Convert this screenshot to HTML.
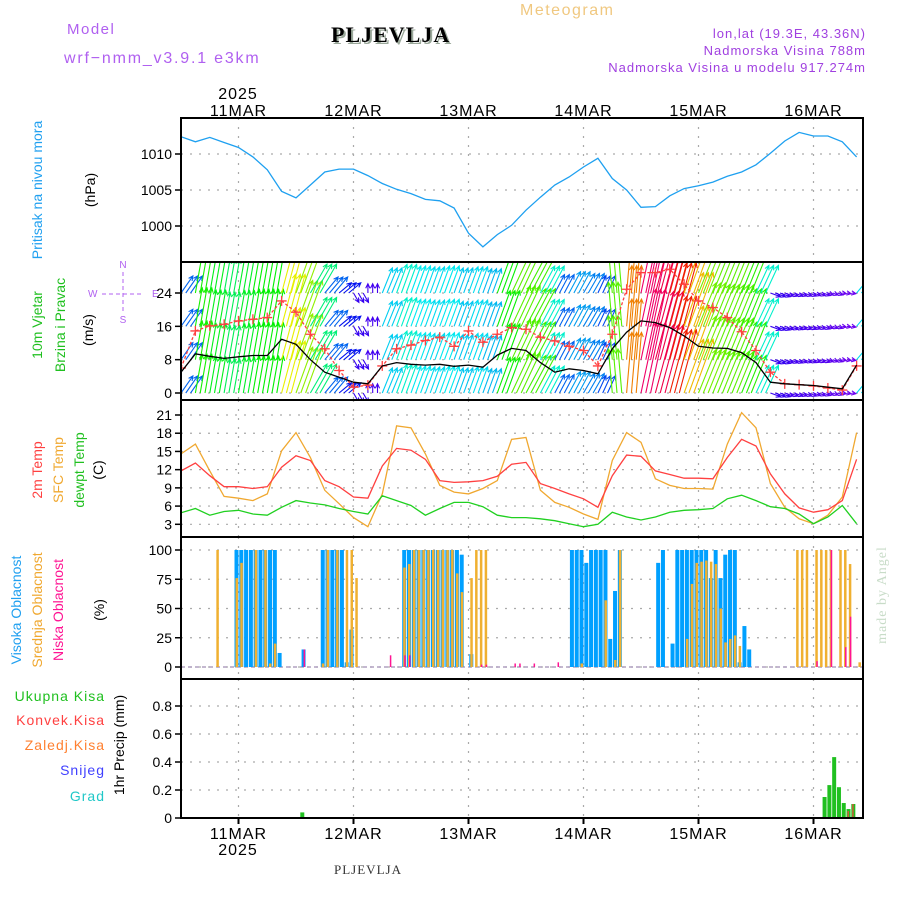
<!DOCTYPE html>
<html><head><meta charset="utf-8">
<style>
html,body{margin:0;padding:0;background:#fff;}
svg{display:block;font-family:"Liberation Sans",sans-serif;}
</style></head>
<body>
<svg id="chart" width="900" height="900" viewBox="0 0 900 900" xmlns="http://www.w3.org/2000/svg">
<rect width="900" height="900" fill="#fff"/>
<text x="67" y="34" font-size="15" fill="#b060f0" letter-spacing="1.5">Model</text>
<text x="64" y="63" font-size="16" fill="#b060f0" letter-spacing="1.8">wrf&#8722;nmm_v3.9.1 e3km</text>
<text x="333" y="44" font-family="Liberation Serif,serif" font-weight="bold" font-size="22" fill="#9aa89a" letter-spacing="1">PLJEVLJA</text>
<text x="331" y="42" font-family="Liberation Serif,serif" font-weight="bold" font-size="22" fill="#000" letter-spacing="1">PLJEVLJA</text>
<text x="520" y="15" font-size="16" fill="#f0c880" letter-spacing="1.5">Meteogram</text>
<text x="866" y="38" font-size="13" fill="#a040e0" text-anchor="end" letter-spacing="1">lon,lat (19.3E, 43.36N)</text>
<text x="866" y="55" font-size="13" fill="#a040e0" text-anchor="end" letter-spacing="1">Nadmorska Visina 788m</text>
<text x="866" y="72" font-size="13" fill="#a040e0" text-anchor="end" letter-spacing="1">Nadmorska Visina u modelu 917.274m</text>
<text x="238" y="99" font-size="16" text-anchor="middle" letter-spacing="1">2025</text>
<text x="238" y="855" font-size="16" text-anchor="middle" letter-spacing="1">2025</text>
<text x="368" y="874" font-family="Liberation Serif,serif" font-size="13" fill="#333" text-anchor="middle" letter-spacing="1">PLJEVLJA</text>
<text transform="translate(886,595) rotate(-90)" font-family="Liberation Serif,serif" font-size="14" fill="#c8dcc8" text-anchor="middle" letter-spacing="1">made by Angel</text>
<text transform="translate(42,190) rotate(-90)" font-size="14" fill="#20a0f0" text-anchor="middle">Pritisak na nivou mora</text>
<text transform="translate(95,190) rotate(-90)" font-size="14" text-anchor="middle">(hPa)</text>
<text transform="translate(42,325) rotate(-90)" font-size="14" fill="#20c020" text-anchor="middle">10m Vjetar</text>
<text transform="translate(65,325) rotate(-90)" font-size="14" fill="#20c020" text-anchor="middle">Brzina i Pravac</text>
<text transform="translate(93,330) rotate(-90)" font-size="14" text-anchor="middle">(m/s)</text>
<g font-size="10" fill="#b060f0" stroke="none">
<text x="123" y="268" text-anchor="middle">N</text><text x="123" y="323" text-anchor="middle">S</text>
<text x="88" y="297">W</text><text x="152" y="297">E</text>
<line x1="102" y1="294" x2="144" y2="294" stroke="#b060f0" stroke-dasharray="4,3"/>
<line x1="123" y1="272" x2="123" y2="314" stroke="#b060f0" stroke-dasharray="4,3"/>
</g>
<text transform="translate(42,470) rotate(-90)" font-size="14" fill="#ff4040" text-anchor="middle">2m Temp</text>
<text transform="translate(63,470) rotate(-90)" font-size="14" fill="#f0a830" text-anchor="middle">SFC Temp</text>
<text transform="translate(84,470) rotate(-90)" font-size="14" fill="#20c020" text-anchor="middle">dewpt Temp</text>
<text transform="translate(103,470) rotate(-90)" font-size="14" text-anchor="middle">(C)</text>
<text transform="translate(21,610) rotate(-90)" font-size="14" fill="#20a0f0" text-anchor="middle">Visoka Oblacnost</text>
<text transform="translate(42,610) rotate(-90)" font-size="14" fill="#f0a830" text-anchor="middle">Srednja Oblacnost</text>
<text transform="translate(63,610) rotate(-90)" font-size="14" fill="#ff1493" text-anchor="middle">Niska Oblacnost</text>
<text transform="translate(104,610) rotate(-90)" font-size="14" text-anchor="middle">(%)</text>
<text x="105" y="701" font-size="14" fill="#20c020" text-anchor="end" letter-spacing="1">Ukupna  Kisa</text>
<text x="105" y="725" font-size="14" fill="#ff4040" text-anchor="end" letter-spacing="1">Konvek.Kisa</text>
<text x="105" y="750" font-size="14" fill="#ff8030" text-anchor="end" letter-spacing="1">Zaledj.Kisa</text>
<text x="105" y="775" font-size="14" fill="#4040ff" text-anchor="end" letter-spacing="1">Snijeg</text>
<text x="105" y="801" font-size="14" fill="#20c8c8" text-anchor="end" letter-spacing="1">Grad</text>
<text transform="translate(124,745) rotate(-90)" font-size="14" text-anchor="middle">1hr Precip (mm)</text>
<g id="plots"></g>
</svg>
<script>
// ---- data (3-hourly, hour 0 = 10 MAR 12Z) ----
const dayLabels = ["11MAR","12MAR","13MAR","14MAR","15MAR","16MAR"];
const pressure = [1012.4,1011.7,1012.3,1011.6,1010.9,1009.6,1007.8,1004.8,1003.9,1005.7,1007.5,1007.9,1007.9,1007.0,1005.9,1005.1,1004.5,1003.7,1003.5,1002.5,999.0,997.1,998.8,1000.1,1002.2,1004.0,1005.7,1006.8,1008.2,1009.4,1006.6,1005.0,1002.6,1002.7,1004.2,1005.2,1005.6,1006.1,1006.9,1007.5,1008.5,1010.1,1011.8,1013.0,1012.5,1012.5,1011.7,1009.6];
const pressureTicks = [1000,1005,1010];
const t2m = [11.8,13.1,11.0,9.2,9.2,8.9,9.2,12.4,14.3,13.5,10.2,9.2,7.5,7.3,12.6,15.5,15.2,13.7,10.2,9.9,10.0,10.2,10.9,12.9,13.2,9.7,8.9,8.0,7.2,5.8,11.0,14.4,14.2,11.8,11.2,10.6,10.6,10.5,14.0,17.0,15.9,11.3,8.0,5.7,5.0,5.4,6.9,13.7];
const tsfc = [14.6,16.2,11.8,7.6,7.3,6.9,8.0,15.1,18.1,14.0,8.6,6.4,4.1,2.6,8.0,19.2,18.9,14.6,9.4,8.3,8.0,8.9,10.2,17.0,17.3,8.6,6.6,5.8,4.7,3.8,13.5,18.1,16.5,10.5,9.4,8.9,8.9,8.8,16.2,21.4,18.9,9.7,5.8,3.9,3.1,4.5,7.5,18.1];
const tdew = [4.9,5.6,4.5,5.1,5.3,4.7,4.5,5.8,6.9,6.5,6.2,5.6,5.1,4.7,7.7,6.9,6.1,4.5,5.6,6.6,6.6,5.9,4.5,4.1,4.1,3.9,3.6,3.1,2.6,3.0,5.0,4.2,3.7,4.2,5.0,5.3,5.4,5.6,7.2,7.8,6.9,5.9,5.6,4.7,3.1,4.2,6.1,3.1];
const tempTicks = [3,6,9,12,15,18,21];
const windSpeed = [5.0,9.4,8.8,8.3,8.7,9.0,9.0,12.9,11.7,8.0,5.0,3.8,2.6,2.2,6.5,7.3,6.9,6.7,6.9,6.4,6.7,6.2,9.1,10.7,10.2,7.3,5.0,5.8,5.4,4.6,10.6,14.6,17.3,16.9,15.7,13.7,11.2,10.8,10.7,9.7,7.3,2.6,2.2,2.0,1.8,1.4,1.0,6.7];
const windGust = [6.0,14.9,16.1,16.5,17.3,17.7,18.1,22.1,19.4,14.1,10.6,5.4,1.4,1.9,6.5,10.6,11.5,12.6,13.4,11.2,14.9,12.2,14.1,15.7,15.3,13.4,12.5,11.2,10.2,6.5,14.1,24.9,28.9,28.9,29.7,26.1,22.1,20.5,18.1,14.7,10.2,5.0,2.2,2.0,1.7,1.2,0.7,6.5];
const windDir = [35,10,10,10,10,10,10,15,20,30,40,50,150,0,22,20,20,20,20,20,20,20,20,25,28,28,28,28,30,25,-5,5,12,15,15,20,22,22,22,22,25,110,110,110,110,110,100,40];
const windTicks = [0,8,16,24];
const highH = [12,13,14,15,16,17,18,19,20,21,26,30,31,32,33,34,35,36,47,48,49,50,51,52,53,54,55,56,57,58,59,61,82,83,84,85,86,87,88,89,90,91,92,100,101,103,104,105,106,107,108,109,110,111,112,113,114,115,116,117,118,119];
const highV = [100,100,100,100,100,100,100,100,100,12,15,100,100,100,100,100,4,32,100,100,100,100,100,100,100,100,100,100,100,100,96,11,100,100,100,89,100,100,100,100,24,65,100,89,100,20,100,100,100,100,100,100,100,76,100,76,96,100,100,4,35,15];
const midH = [8,12,13,16,18,19,20,30,31,33,35,36,37,47,48,49,50,51,52,53,54,55,56,57,58,59,61,62,63,64,84,89,91,92,106,107,108,109,110,111,112,113,114,115,116,117,129,130,131,133,134,135,136,138,139,140,142];
const midV = [100,76,89,100,100,3,20,3,100,100,100,100,76,85,88,100,100,100,100,100,100,100,100,100,80,64,76,100,100,100,3,57,6,100,24,71,89,90,91,90,88,50,21,24,27,18,100,100,100,100,100,100,100,100,100,88,4];
const lowH = [26,44,47,48,63,64,70,71,74,79,133,136,139,140];
const lowV = [15,10,10,10,2,2,3,3,3,4,5,100,17,43];
const cloudTicks = [0,25,50,75,100];
const precipH = [25,134,135,136,137,138,139,140];
const precipV = [0.04,0.15,0.235,0.435,0.22,0.107,0.064,0.1];
const convH = [139,140];
const convV = [0.05,0.1];
const precipTicks = [0,0.2,0.4,0.6,0.8];

const NS="http://www.w3.org/2000/svg";
const g=document.getElementById('plots');
const X0=181,X1=863,PXH=115/24;
const xs=h=>X0+h*PXH;
function mk(tag,attrs,parent){const e=document.createElementNS(NS,tag);for(const k in attrs)e.setAttribute(k,attrs[k]);(parent||g).appendChild(e);return e;}
function lin(v0,y0,v1,y1){return v=>y0+(v-v0)*(y1-y0)/(v1-v0);}
const yP=lin(1010,154,1000,226);
const yW=lin(0,393,24,293);
const yT=lin(3,524.3,21,415);
const yC=lin(0,667,100,550);
const yR=lin(0,818,0.8,706);
const panels=[[118,262],[262,400],[400,537],[537,679],[679,818]];
const dayHours=[12,36,60,84,108,132];

const defs=mk('defs',{});
panels.forEach((p,i)=>{const c=mk('clipPath',{id:'clip'+i},defs);mk('rect',{x:X0,y:p[0],width:X1-X0,height:p[1]-p[0]},c);});

function grid(ticks,ys,fmt,i,label){
  const p=panels[i];
  ticks.forEach(t=>{
    const y=ys(t);
    const gl=mk('line',{x1:X0,x2:X1,y1:y,y2:y,stroke:'#aaa','stroke-width':1.2,'stroke-dasharray':'2,7'});
    
    
    const tk=mk('line',{x1:X0-6,x2:X0,y1:y,y2:y,stroke:'#000','stroke-width':1.5});
    
    
    const tx=mk('text',{x:X0-9,y:y+5,'font-size':14,'text-anchor':'end'});
    
    
    tx.textContent=fmt(t);
  });
  dayHours.forEach(h=>{
    const vl=mk('line',{x1:xs(h),x2:xs(h),y1:p[0],y2:p[1],stroke:'#aaa','stroke-width':1.2,'stroke-dasharray':'2,7'});
    
    
  });
}
grid(pressureTicks,yP,t=>t,0,'pressure');
grid(windTicks,yW,t=>t,1,'wind');
grid(tempTicks,yT,t=>t,2,'temp');
grid(cloudTicks,yC,t=>t,3,'cloud');
grid(precipTicks,yR,t=>t===0?'0':t.toFixed(1),4,'precip');

function line(arr,ys,color,name,clip,extra){
  const pts=arr.map((v,k)=>xs(k*3).toFixed(1)+','+ys(v).toFixed(1)).join(' ');
  const a={points:pts,fill:'none',stroke:color,'stroke-width':1.3,'clip-path':'url(#clip'+clip+')'};
  Object.assign(a,extra||{});
  const e=mk('polyline',a);
  
  
  return e;
}
line(pressure,yP,'#1ea0f0','pressure-line',0);

const hueStops=[[0,275],[3,250],[5,215],[7,180],[9,120],[12,80],[13.5,50],[15,25],[16,0],[17.5,-30],[30,-40]];
function hue(s){for(let i=1;i<hueStops.length;i++){if(s<=hueStops[i][0]){const a=hueStops[i-1],b=hueStops[i];return a[1]+(s-a[0])*(b[1]-a[1])/(b[0]-a[0]);}}return -40;}
const wg=mk('g',{'clip-path':'url(#clip1)'});


const pxPerMs=(yW(0)-yW(1));
windSpeed.forEach((s,k)=>{
  const d=windDir[k]*Math.PI/180;
  const col='hsl('+((hue(s)+360)%360)+',100%,47%)';
  for(let j=0;j<3;j++){
    const x=xs(k*3+j);
    [0,8,16,24].forEach(b=>{
      const y=yW(b);
      const dx=Math.sin(d)*s*pxPerMs, dy=-Math.cos(d)*s*pxPerMs;
      const x2=x+dx,y2=y+dy;
      const ang=Math.atan2(dy,dx);
      const hl=5;
      const p='M'+x.toFixed(1)+' '+y.toFixed(1)+'L'+x2.toFixed(1)+' '+y2.toFixed(1)+
        'M'+(x2-hl*Math.cos(ang-0.45)).toFixed(1)+' '+(y2-hl*Math.sin(ang-0.45)).toFixed(1)+'L'+x2.toFixed(1)+' '+y2.toFixed(1)+
        'L'+(x2-hl*Math.cos(ang+0.45)).toFixed(1)+' '+(y2-hl*Math.sin(ang+0.45)).toFixed(1);
      const a=mk('path',{d:p,stroke:col,'stroke-width':1.1,fill:'none'},wg);
      
      
    });
  }
});
line(windGust,yW,'#ff4040','wind-gust-line',1,{'stroke-dasharray':'3,2'});
windGust.forEach((v,k)=>{
  const x=xs(k*3),y=yW(v);
  const m=mk('path',{d:'M'+(x-5)+' '+y+'h10M'+x+' '+(y-5)+'v10',stroke:'#ff4040','stroke-width':1.3,'clip-path':'url(#clip1)'});
  
  
});
line(windSpeed,yW,'#000','wind-speed-line',1);

line(tsfc,yT,'#f0a830','sfc-temp-line',2);
line(t2m,yT,'#ff4040','temp-2m-line',2);
line(tdew,yT,'#20d020','dewpoint-line',2);

const cb=mk('line',{x1:X0,x2:X1,y1:yC(0),y2:yC(0),stroke:'#b0a0c0','stroke-width':1.5,'stroke-dasharray':'4,3'});


highH.forEach((h,i)=>{
  const r=mk('rect',{x:xs(h)-4,y:yC(highV[i]),width:4,height:yC(0)-yC(highV[i]),fill:'#00a0ff'});
  
  
});
midH.forEach((h,i)=>{
  const r=mk('rect',{x:xs(h)-3,y:yC(midV[i]),width:2.5,height:yC(0)-yC(midV[i]),fill:'#f0b030'});
  
  
});
lowH.forEach((h,i)=>{
  const r=mk('rect',{x:xs(h)-2,y:yC(lowV[i]),width:1.5,height:yC(0)-yC(lowV[i]),fill:'#ff1493'});
  
  
});

precipH.forEach((h,i)=>{
  const r=mk('rect',{x:xs(h)-0.5,y:yR(precipV[i]),width:4,height:yR(0)-yR(precipV[i]),fill:'#20c020'});
  
  
});
convH.forEach((h,i)=>{
  const r=mk('rect',{x:xs(h)+0.5,y:yR(convV[i]),width:1.2,height:yR(0)-yR(convV[i]),fill:'#ff4040'});
  
  
});
const pb=mk('line',{x1:X0,x2:X1,y1:818,y2:818,stroke:'#000','stroke-width':1.5,'stroke-dasharray':'5,3'});



panels.forEach((p,i)=>{
  const f=mk('rect',{x:X0,y:p[0],width:X1-X0,height:p[1]-p[0],fill:'none',stroke:'#000','stroke-width':2});
  
  
});
dayLabels.forEach((d,i)=>{
  const x=xs(dayHours[i]);
  const t1=mk('text',{x:x,y:116,'font-size':16,'text-anchor':'middle','letter-spacing':1});
  
  
  t1.textContent=d;
  const t2=mk('text',{x:x,y:839,'font-size':16,'text-anchor':'middle','letter-spacing':1});
  
  
  t2.textContent=d;
  const tk=mk('line',{x1:x,x2:x,y1:818,y2:824,stroke:'#000','stroke-width':2});
  
  
});
</script>
</body></html>
